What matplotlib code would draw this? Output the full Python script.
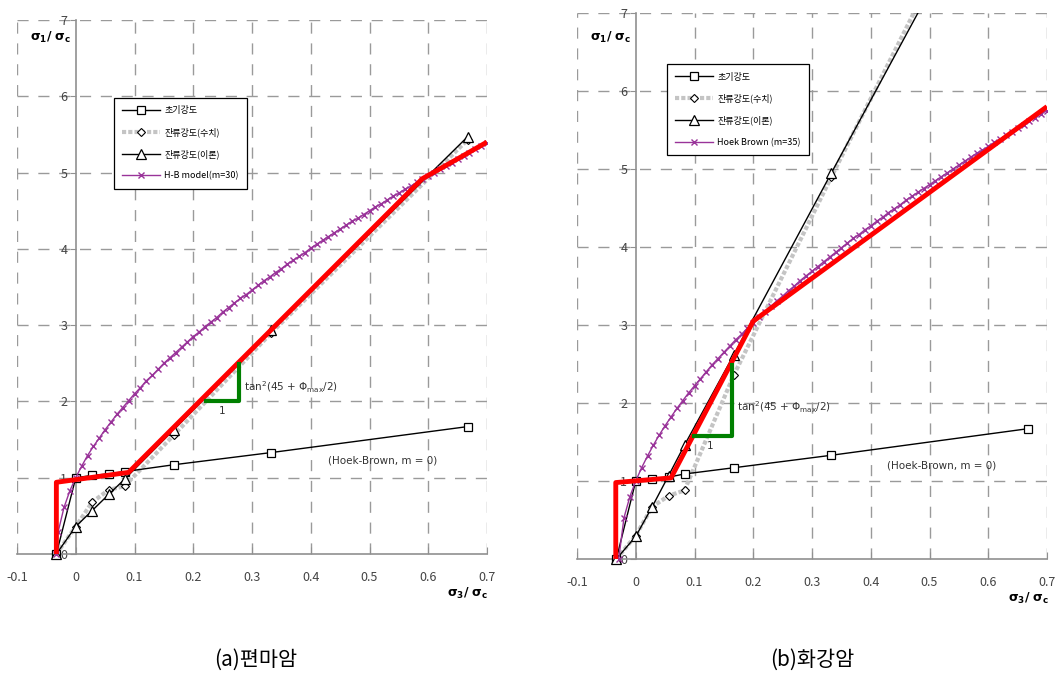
import matplotlib
matplotlib.use("Agg")
import matplotlib.pyplot as plt
from matplotlib.patches import Rectangle

plt.rcParams['font.family'] = ['Noto Sans CJK KR', 'DejaVu Sans']
plt.rcParams['mathtext.fontset'] = 'dejavusans'

# ---------------- data ----------------
s3_pts = [-0.033, 0.0, 0.028, 0.056, 0.083, 0.167, 0.333, 0.667]

# (a) 편마암
a_init = [0.0, 1.00, 1.03, 1.05, 1.08, 1.17, 1.33, 1.67]
a_num = [0.0, 0.36, 0.68, 0.84, 0.89, 1.56, 2.90, 5.43]
a_theory = [0.0, 0.36, 0.57, 0.78, 0.98, 1.63, 2.93, 5.47]
a_hb_x = [-0.033, -0.03, -0.02, -0.01, 0.0, 0.01, 0.02, 0.03, 0.04, 0.05, 0.06, 0.07, 0.08, 0.09,
          0.10, 0.11, 0.12, 0.13, 0.14, 0.15, 0.16, 0.17, 0.18, 0.19, 0.20, 0.21, 0.22, 0.23, 0.24,
          0.25, 0.26, 0.27, 0.28, 0.29, 0.30, 0.31, 0.32, 0.33, 0.34, 0.35, 0.36, 0.37, 0.38, 0.39,
          0.40, 0.41, 0.42, 0.43, 0.44, 0.45, 0.46, 0.47, 0.48, 0.49, 0.50, 0.51, 0.52, 0.53, 0.54,
          0.55, 0.56, 0.57, 0.58, 0.59, 0.60, 0.61, 0.62, 0.63, 0.64, 0.65, 0.66, 0.67, 0.68, 0.69, 0.70]
a_hb_y = [0.0, 0.29, 0.61, 0.83, 1.00, 1.15, 1.29, 1.41, 1.52, 1.63, 1.73, 1.83, 1.92, 2.01,
          2.10, 2.18, 2.27, 2.34, 2.42, 2.50, 2.57, 2.64, 2.71, 2.78, 2.85, 2.91, 2.98, 3.04, 3.10,
          3.17, 3.23, 3.29, 3.35, 3.40, 3.46, 3.52, 3.58, 3.63, 3.69, 3.74, 3.80, 3.85, 3.90, 3.95,
          4.01, 4.06, 4.11, 4.16, 4.21, 4.26, 4.31, 4.36, 4.40, 4.45, 4.50, 4.55, 4.59, 4.64, 4.69,
          4.73, 4.78, 4.82, 4.87, 4.91, 4.96, 5.00, 5.05, 5.09, 5.13, 5.18, 5.22, 5.26, 5.31, 5.35, 5.39]
a_red_x = [-0.033, -0.033, 0.09, 0.59, 0.65, 0.70]
a_red_y = [0.0, 0.94, 1.07, 4.92, 5.18, 5.40]
a_green_x = [0.221, 0.278, 0.278]
a_green_y = [2.0, 2.0, 2.49]

# (b) 화강암
b_init = [0.0, 1.00, 1.02, 1.05, 1.09, 1.17, 1.33, 1.67]
b_num = [0.0, 0.30, 0.67, 0.81, 0.88, 2.36, 4.90, 9.90]
b_theory = [0.0, 0.29, 0.67, 1.07, 1.46, 2.62, 4.95, 9.60]
b_hb_x = [-0.029, -0.02, -0.01, 0.0, 0.01, 0.02, 0.03, 0.04, 0.05, 0.06, 0.07, 0.08, 0.09,
          0.10, 0.11, 0.12, 0.13, 0.14, 0.15, 0.16, 0.17, 0.18, 0.19, 0.20, 0.21, 0.22, 0.23, 0.24,
          0.25, 0.26, 0.27, 0.28, 0.29, 0.30, 0.31, 0.32, 0.33, 0.34, 0.35, 0.36, 0.37, 0.38, 0.39,
          0.40, 0.41, 0.42, 0.43, 0.44, 0.45, 0.46, 0.47, 0.48, 0.49, 0.50, 0.51, 0.52, 0.53, 0.54,
          0.55, 0.56, 0.57, 0.58, 0.59, 0.60, 0.61, 0.62, 0.63, 0.64, 0.65, 0.66, 0.67, 0.68, 0.69, 0.70]
b_hb_y = [0.0, 0.53, 0.80, 1.00, 1.17, 1.32, 1.46, 1.59, 1.71, 1.82, 1.93, 2.03, 2.13,
          2.22, 2.31, 2.40, 2.49, 2.57, 2.65, 2.73, 2.81, 2.88, 2.96, 3.03, 3.10, 3.17, 3.24, 3.31,
          3.37, 3.44, 3.50, 3.57, 3.63, 3.69, 3.75, 3.81, 3.87, 3.93, 3.99, 4.05, 4.11, 4.16, 4.22,
          4.27, 4.33, 4.38, 4.44, 4.49, 4.54, 4.60, 4.65, 4.70, 4.75, 4.80, 4.85, 4.90, 4.95, 5.00,
          5.05, 5.10, 5.15, 5.20, 5.24, 5.29, 5.34, 5.38, 5.43, 5.48, 5.52, 5.57, 5.62, 5.66, 5.71, 5.75]
b_red_x = [-0.034, -0.034, 0.06, 0.200, 0.70]
b_red_y = [0.0, 0.98, 1.04, 3.05, 5.80]
b_green_x = [0.099, 0.164, 0.164]
b_green_y = [1.58, 1.58, 2.49]

xticks = [-0.1, 0.0, 0.1, 0.2, 0.3, 0.4, 0.5, 0.6, 0.7]
xticklabels = ['-0.1', '0', '0.1', '0.2', '0.3', '0.4', '0.5', '0.6', '0.7']
yticks = [0, 1, 2, 3, 4, 5, 6, 7]

labels_a = ['초기강도', '잔류강도(수치)', '잔류강도(이론)', 'H-B model(m=30)']
labels_b = ['초기강도', '잔류강도(수치)', '잔류강도(이론)', 'Hoek Brown (m=35)']

# ---------------- figure ----------------
fig = plt.figure(figsize=(10.56, 6.86), dpi=100)
ax_a = fig.add_axes([17/1056, 1-554/686, 470/1056, 534/686])
ax_b = fig.add_axes([577/1056, 1-559/686, 470/1056, 546/686])

GRID = '#9a9a9a'
PURPLE = '#993399'


def setup(ax):
    ax.set_xlim(-0.1, 0.7)
    ax.set_ylim(0, 7)
    for sp in ['top', 'right']:
        ax.spines[sp].set_visible(False)
    ax.spines['left'].set_position(('data', 0))
    ax.spines['bottom'].set_position(('data', 0))
    ax.spines['left'].set_color('#909090')
    ax.spines['bottom'].set_color('#909090')
    ax.spines['left'].set_linewidth(1.2)
    ax.spines['bottom'].set_linewidth(1.2)
    ax.set_xticks(xticks)
    ax.set_xticklabels(xticklabels)
    ax.set_yticks(yticks)
    ax.tick_params(axis='x', direction='in', length=5, color='#909090', pad=12,
                   labelsize=9, labelcolor='#444444')
    ax.tick_params(axis='y', direction='out', length=4, color='#909090', pad=2,
                   labelsize=9, labelcolor='#444444')
    for x in xticks:
        if x != 0.0:
            ax.axvline(x, color=GRID, lw=1.0, dashes=(8, 7), zorder=0.5)
    for y in yticks[1:]:
        ax.axhline(y, color=GRID, lw=1.0, dashes=(8, 7), zorder=0.5)
    ax.set_facecolor('none')


def draw(ax, init, num, theory, hbx, hby, redx, redy, gx, gy, labels):
    setup(ax)
    clip = Rectangle((-0.06, -0.06), 1.06, 1.06, transform=ax.transAxes)
    l1, = ax.plot(s3_pts, init, color='black', lw=1, marker='s', ms=6,
                  mfc='white', mec='black', mew=0.9, zorder=4, clip_on=False)
    l2, = ax.plot(s3_pts, num, color='#c4c4c4', lw=3.0, dashes=(1.0, 0.5), marker='D', ms=4.5,
                  mfc='white', mec='black', mew=0.8, zorder=3)
    l3, = ax.plot(s3_pts, theory, color='black', lw=1, marker='^', ms=7.5,
                  mfc='white', mec='black', mew=0.9, zorder=4)
    l4, = ax.plot(hbx, hby, color=PURPLE, lw=1, marker='x', ms=4, mec=PURPLE, mew=1,
                  zorder=5)
    for l in (l2, l3, l4):
        l.set_clip_path(clip)
    ax.plot(redx, redy, color='red', lw=3.5, zorder=6, solid_capstyle='butt')
    ax.plot(gx, gy, color='#008000', lw=3, zorder=6)
    leg = ax.legend([l1, l2, l3, l4], labels, fontsize=6.5, handlelength=4.2,
                    numpoints=1, fancybox=False, edgecolor='black', framealpha=1,
                    borderpad=0.9, labelspacing=1.35, handletextpad=0.5,
                    loc='upper left')
    leg.get_frame().set_linewidth(0.9)
    leg.set_zorder(10)
    return leg


leg_a = draw(ax_a, a_init, a_num, a_theory, a_hb_x, a_hb_y, a_red_x, a_red_y,
             a_green_x, a_green_y, labels_a)
leg_a.set_bbox_to_anchor((0.196, 0.862), transform=ax_a.transAxes)
leg_b = draw(ax_b, b_init, b_num, b_theory, b_hb_x, b_hb_y, b_red_x, b_red_y,
             b_green_x, b_green_y, labels_b)
leg_b.set_bbox_to_anchor((0.181, 0.914), transform=ax_b.transAxes)

ann_kw = dict(fontsize=7.5, color='#333333', family='DejaVu Sans')
tan_txt = r'tan$^2$(45 + Φ$_{\rm max}$/2)'
ax_a.text(0.287, 2.18, tan_txt, va='center', ha='left', **ann_kw)
ax_a.text(0.25, 1.88, '1', va='center', ha='center', **ann_kw)
ax_a.text(0.43, 1.23, '(Hoek-Brown, m = 0)', va='center', ha='left', **ann_kw)

ax_b.text(0.172, 1.94, tan_txt, va='center', ha='left', **ann_kw)
ax_b.text(0.126, 1.45, '1', va='center', ha='center', **ann_kw)
ax_b.text(0.428, 1.20, '(Hoek-Brown, m = 0)', va='center', ha='left', **ann_kw)

# axis titles
lab_kw = dict(fontsize=9, color='black', family='DejaVu Sans')
fig.text(30/1056, 1-37/686, r'$\mathbf{\sigma_1/\ \sigma_c}$', va='center', ha='left', **lab_kw)
fig.text(590/1056, 1-37/686, r'$\mathbf{\sigma_1/\ \sigma_c}$', va='center', ha='left', **lab_kw)
fig.text(447/1056, 1-593/686, r'$\mathbf{\sigma_3/\ \sigma_c}$', va='center', ha='left', **lab_kw)
fig.text(1008/1056, 1-598/686, r'$\mathbf{\sigma_3/\ \sigma_c}$', va='center', ha='left', **lab_kw)

# captions
fig.text(256/1056, 1-660/686, '(a)편마암', ha='center', va='center', fontsize=15)
fig.text(812/1056, 1-660/686, '(b)화강암', ha='center', va='center', fontsize=15)

fig.savefig('out.png', dpi=100)
